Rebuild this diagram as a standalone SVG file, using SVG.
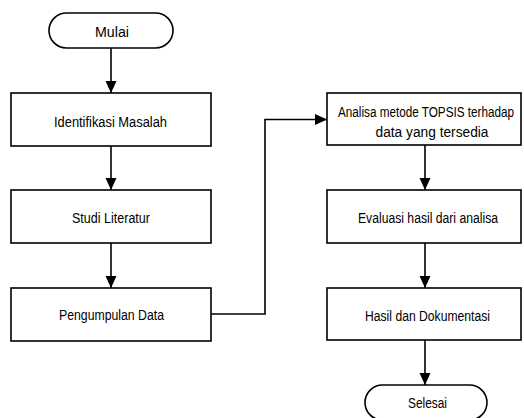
<svg xmlns="http://www.w3.org/2000/svg" width="524" height="418" viewBox="0 0 524 418">
<style>
.b{fill:#fff;stroke:#000;stroke-width:1.6}
.t{font-family:"Liberation Sans",Arial,sans-serif;font-size:14px;fill:#000;text-anchor:middle}
.c{fill:none;stroke:#000;stroke-width:1.6}
</style>
<defs>
<marker id="a" viewBox="0 0 12 12" refX="12" refY="6" markerWidth="12" markerHeight="12" markerUnits="userSpaceOnUse" orient="auto">
<path d="M0,0.5 L12,6 L0,11.5 Z" fill="#000"/>
</marker>
</defs>
<rect width="524" height="418" fill="#fff"/>
<g id="connectors">
<line class="c" x1="111" y1="48" x2="111" y2="93" marker-end="url(#a)"/>
<line class="c" x1="111" y1="146" x2="111" y2="190" marker-end="url(#a)"/>
<line class="c" x1="111" y1="243" x2="111" y2="288" marker-end="url(#a)"/>
<polyline class="c" points="211,314 265,314 265,119.5 327,119.5" marker-end="url(#a)"/>
<line class="c" x1="425" y1="145" x2="425" y2="190" marker-end="url(#a)"/>
<line class="c" x1="425" y1="243" x2="425" y2="288" marker-end="url(#a)"/>
<line class="c" x1="425" y1="340" x2="425" y2="385" marker-end="url(#a)"/>
</g>
<g id="mulai">
<rect class="b" x="49" y="13" width="124" height="35" rx="17.5"/>
<text class="t" x="112" y="36.5" textLength="34" lengthAdjust="spacingAndGlyphs">Mulai</text>
</g>
<g id="identifikasi">
<rect class="b" x="11" y="93" width="200" height="53"/>
<text class="t" x="110.5" y="126.5" textLength="113" lengthAdjust="spacingAndGlyphs">Identifikasi Masalah</text>
</g>
<g id="studi">
<rect class="b" x="11" y="190" width="200" height="53"/>
<text class="t" x="111" y="223" textLength="78" lengthAdjust="spacingAndGlyphs">Studi Literatur</text>
</g>
<g id="pengumpulan">
<rect class="b" x="11" y="288" width="200" height="53"/>
<text class="t" x="111.5" y="320" textLength="105" lengthAdjust="spacingAndGlyphs">Pengumpulan Data</text>
</g>
<g id="analisa">
<rect class="b" x="327" y="93" width="194" height="52"/>
<text class="t" x="426" y="116.5" textLength="176" lengthAdjust="spacingAndGlyphs">Analisa metode TOPSIS terhadap</text>
<text class="t" x="432" y="136.5" textLength="113" lengthAdjust="spacingAndGlyphs">data yang tersedia</text>
</g>
<g id="evaluasi">
<rect class="b" x="327" y="190" width="194" height="53"/>
<text class="t" x="428" y="223" textLength="140" lengthAdjust="spacingAndGlyphs">Evaluasi hasil dari analisa</text>
</g>
<g id="hasil">
<rect class="b" x="327" y="288" width="194" height="52"/>
<text class="t" x="427.5" y="320.5" textLength="125" lengthAdjust="spacingAndGlyphs">Hasil dan Dokumentasi</text>
</g>
<g id="selesai">
<rect class="b" x="365" y="385" width="122" height="35" rx="17.5"/>
<text class="t" x="427.5" y="408" textLength="39" lengthAdjust="spacingAndGlyphs">Selesai</text>
</g>
</svg>
